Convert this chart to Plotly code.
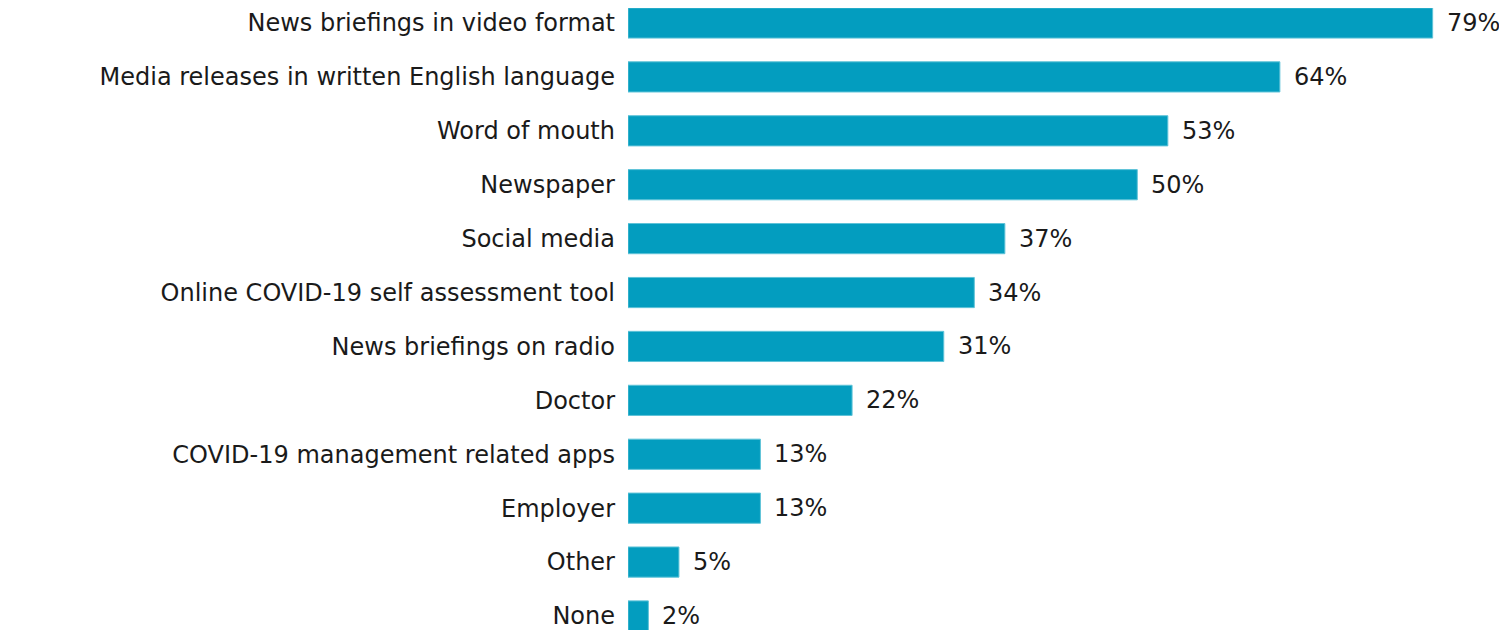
import plotly.graph_objects as go

categories = [
    "News briefings in video format",
    "Media releases in written English language",
    "Word of mouth",
    "Newspaper",
    "Social media",
    "Online COVID-19 self assessment tool",
    "News briefings on radio",
    "Doctor",
    "COVID-19 management related apps",
    "Employer",
    "Other",
    "None",
]
values = [79, 64, 53, 50, 37, 34, 31, 22, 13, 13, 5, 2]
value_labels = [f"{v}%" for v in values]

BAR_COLOR = "#039dbf"
FONT = "DejaVu Sans"
TEXT_COLOR = "#1a1a1a"
FONT_SIZE = 24

fig = go.Figure()
fig.add_trace(go.Bar(
    x=values,
    y=categories,
    orientation="h",
    marker=dict(color=BAR_COLOR, line=dict(color="#5fc3d8", width=1)),
    width=0.56,
    hoverinfo="skip",
))

for cat, v, lab in zip(categories, values, value_labels):
    fig.add_annotation(
        x=v, y=cat, text=lab, showarrow=False,
        xanchor="left", yanchor="middle", xshift=12,
        font=dict(family=FONT, size=FONT_SIZE, color=TEXT_COLOR),
    )

fig.update_layout(
    width=1499,
    height=622,
    margin=dict(l=620, r=0, t=0, b=0, autoexpand=False),
    paper_bgcolor="white",
    plot_bgcolor="white",
    showlegend=False,
    font=dict(family=FONT, size=FONT_SIZE, color=TEXT_COLOR),
)
fig.update_xaxes(range=[0, 86.3], visible=False, fixedrange=True)
fig.update_yaxes(
    type="category",
    categoryorder="array",
    categoryarray=categories,
    range=[11.26, -0.278],
    showgrid=False,
    zeroline=False,
    showline=False,
    ticks="",
    automargin=False,
    ticklabelstandoff=12,
    tickfont=dict(family=FONT, size=FONT_SIZE, color=TEXT_COLOR),
)

fig.write_html("out.html")
